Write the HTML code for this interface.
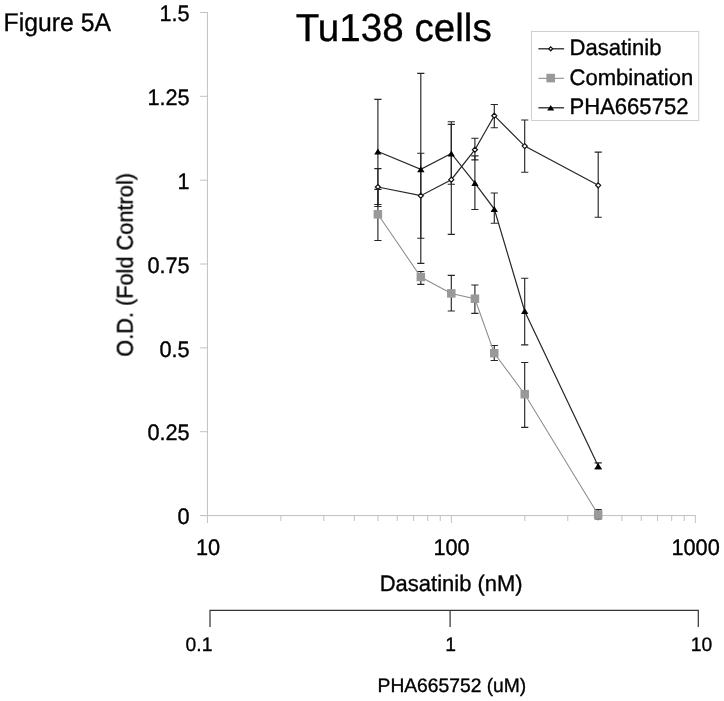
<!DOCTYPE html>
<html><head><meta charset="utf-8"><title>Figure 5A</title>
<style>html,body{margin:0;padding:0;background:#fff;}body{width:724px;height:701px;overflow:hidden;font-family:"Liberation Sans",sans-serif;}svg{display:block;}</style>
</head><body>
<svg width="724" height="701" viewBox="0 0 724 701">
<rect width="724" height="701" fill="#fff"/>
<g stroke="#c2c2c2" stroke-width="1" fill="none">
<line x1="207.45" y1="12" x2="207.45" y2="523"/>
<line x1="200" y1="515.55" x2="695.85" y2="515.55"/>
<line x1="200" y1="515.55" x2="207.45" y2="515.55"/>
<line x1="200" y1="431.71" x2="207.45" y2="431.71"/>
<line x1="200" y1="347.87" x2="207.45" y2="347.87"/>
<line x1="200" y1="264.02" x2="207.45" y2="264.02"/>
<line x1="200" y1="180.18" x2="207.45" y2="180.18"/>
<line x1="200" y1="96.34" x2="207.45" y2="96.34"/>
<line x1="200" y1="12.50" x2="207.45" y2="12.50"/>
<line x1="280.89" y1="515.55" x2="280.89" y2="521"/>
<line x1="323.84" y1="515.55" x2="323.84" y2="521"/>
<line x1="354.32" y1="515.55" x2="354.32" y2="521"/>
<line x1="377.96" y1="515.55" x2="377.96" y2="521"/>
<line x1="397.28" y1="515.55" x2="397.28" y2="521"/>
<line x1="413.61" y1="515.55" x2="413.61" y2="521"/>
<line x1="427.76" y1="515.55" x2="427.76" y2="521"/>
<line x1="440.24" y1="515.55" x2="440.24" y2="521"/>
<line x1="524.84" y1="515.55" x2="524.84" y2="521"/>
<line x1="567.79" y1="515.55" x2="567.79" y2="521"/>
<line x1="598.27" y1="515.55" x2="598.27" y2="521"/>
<line x1="621.91" y1="515.55" x2="621.91" y2="521"/>
<line x1="641.23" y1="515.55" x2="641.23" y2="521"/>
<line x1="657.56" y1="515.55" x2="657.56" y2="521"/>
<line x1="671.71" y1="515.55" x2="671.71" y2="521"/>
<line x1="684.19" y1="515.55" x2="684.19" y2="521"/>
<line x1="451.40" y1="515.55" x2="451.40" y2="523"/>
<line x1="695.35" y1="515.55" x2="695.35" y2="523"/>
</g>
<g stroke="#333" stroke-width="1.2" fill="none">
<path d="M210 627 V610.3 H698.3 V627 M450.1 610.3 V627"/>
</g>
<g stroke="#262626" stroke-width="1.15" fill="none">
<path d="M377.9 168.6 V206.5 M374.3 168.6 H381.5 M374.3 206.5 H381.5"/>
<path d="M420.8 153.2 V238.2 M417.2 153.2 H424.4 M417.2 238.2 H424.4"/>
<path d="M451.3 124.3 V234.4 M447.7 124.3 H454.9 M447.7 234.4 H454.9"/>
<path d="M474.9 138.2 V159.8 M471.3 138.2 H478.5 M471.3 159.8 H478.5"/>
<path d="M494.3 104.5 V127.7 M490.7 104.5 H497.9 M490.7 127.7 H497.9"/>
<path d="M524.7 120 V172.2 M521.1 120 H528.3 M521.1 172.2 H528.3"/>
<path d="M598.2 152.1 V217.2 M594.6 152.1 H601.8 M594.6 217.2 H601.8"/>
<path d="M377.9 99.3 V204.5 M374.3 99.3 H381.5 M374.3 204.5 H381.5"/>
<path d="M420.8 73.3 V263.3 M417.2 73.3 H424.4 M417.2 263.3 H424.4"/>
<path d="M451.3 121.7 V184.2 M447.7 121.7 H454.9 M447.7 184.2 H454.9"/>
<path d="M474.9 155.8 V209.5 M471.3 155.8 H478.5 M471.3 209.5 H478.5"/>
<path d="M494.3 193 V223.2 M490.7 193 H497.9 M490.7 223.2 H497.9"/>
<path d="M524.7 278.2 V344.9 M521.1 278.2 H528.3 M521.1 344.9 H528.3"/>
<path d="M598.2 462.8 V469.0 M594.6 462.8 H601.8 M594.6 469.0 H601.8"/>
<path d="M377.9 189.4 V240.5 M374.3 189.4 H381.5 M374.3 240.5 H381.5"/>
<path d="M420.8 271.5 V284.3 M417.2 271.5 H424.4 M417.2 284.3 H424.4"/>
<path d="M451.3 275.4 V311 M447.7 275.4 H454.9 M447.7 311 H454.9"/>
<path d="M474.9 285 V313.3 M471.3 285 H478.5 M471.3 313.3 H478.5"/>
<path d="M494.3 345.5 V360.5 M490.7 345.5 H497.9 M490.7 360.5 H497.9"/>
<path d="M524.7 362.5 V427.4 M521.1 362.5 H528.3 M521.1 427.4 H528.3"/>
<path d="M598.2 509.6 V519.0 M594.6 509.6 H601.8 M594.6 519.0 H601.8"/>
</g>
<polyline points="377.9,214.3 420.8,277 451.3,293.4 474.9,298.7 494.3,353.2 524.7,394.2 598.2,514.6" fill="none" stroke="#8c8c8c" stroke-width="1.05"/>
<rect x="373.61" y="210.05" width="8.5" height="8.5" fill="#999999"/>
<rect x="416.57" y="272.75" width="8.5" height="8.5" fill="#999999"/>
<rect x="447.05" y="289.15" width="8.5" height="8.5" fill="#999999"/>
<rect x="470.69" y="294.45" width="8.5" height="8.5" fill="#999999"/>
<rect x="490.01" y="348.95" width="8.5" height="8.5" fill="#999999"/>
<rect x="520.49" y="389.95" width="8.5" height="8.5" fill="#999999"/>
<rect x="593.92" y="510.35" width="8.5" height="8.5" fill="#999999"/>
<polyline points="377.9,151.5 420.8,169.3 451.3,153.5 474.9,183.2 494.3,209.1 524.7,311.2 598.2,466.0" fill="none" stroke="#262626" stroke-width="1.2"/>
<polyline points="377.9,187 420.8,195.7 451.3,179.7 474.9,149.7 494.3,115.7 524.7,146.1 598.2,185.3" fill="none" stroke="#262626" stroke-width="1.2"/>
<path d="M377.9 148.4 L381.5 154.4 H374.2 Z" fill="#000"/>
<path d="M420.8 166.2 L424.5 172.2 H417.2 Z" fill="#000"/>
<path d="M451.3 150.4 L454.9 156.4 H447.7 Z" fill="#000"/>
<path d="M474.9 180.1 L478.6 186.1 H471.3 Z" fill="#000"/>
<path d="M494.3 206.0 L497.9 212.0 H490.6 Z" fill="#000"/>
<path d="M524.7 308.1 L528.4 314.1 H521.1 Z" fill="#000"/>
<path d="M598.2 462.9 L601.8 468.9 H594.5 Z" fill="#000"/>
<path d="M377.9 184.50 L380.36 187.0 L377.9 189.50 L375.36 187.0 Z" fill="#fff" stroke="#111" stroke-width="1.2"/>
<path d="M420.8 193.20 L423.32 195.7 L420.8 198.20 L418.32 195.7 Z" fill="#fff" stroke="#111" stroke-width="1.2"/>
<path d="M451.3 177.20 L453.80 179.7 L451.3 182.20 L448.80 179.7 Z" fill="#fff" stroke="#111" stroke-width="1.2"/>
<path d="M474.9 147.20 L477.44 149.7 L474.9 152.20 L472.44 149.7 Z" fill="#fff" stroke="#111" stroke-width="1.2"/>
<path d="M494.3 113.20 L496.76 115.7 L494.3 118.20 L491.76 115.7 Z" fill="#fff" stroke="#111" stroke-width="1.2"/>
<path d="M524.7 143.60 L527.24 146.1 L524.7 148.60 L522.24 146.1 Z" fill="#fff" stroke="#111" stroke-width="1.2"/>
<path d="M598.2 182.80 L600.67 185.3 L598.2 187.80 L595.67 185.3 Z" fill="#fff" stroke="#111" stroke-width="1.2"/>
<rect x="531.5" y="31.5" width="167.3" height="89" fill="#fff" stroke="#cfcfcf" stroke-width="1"/>
<line x1="538.4" y1="48.8" x2="564.1" y2="48.8" stroke="#262626" stroke-width="1.3"/>
<path d="M550.7 46.85 L552.65 48.8 L550.7 50.75 L548.75 48.8 Z" fill="#fff" stroke="#111" stroke-width="1.25"/>
<line x1="538.4" y1="78.3" x2="564.1" y2="78.3" stroke="#8c8c8c" stroke-width="1.05"/>
<rect x="546.4000000000001" y="73.8" width="8.6" height="8.6" fill="#999999"/>
<line x1="538.4" y1="107.8" x2="564.1" y2="107.8" stroke="#262626" stroke-width="1.3"/>
<path d="M550.7 104.9 L554.2 110.5 H547.2 Z" fill="#000"/>
<g font-family="'Liberation Sans', sans-serif" text-rendering="geometricPrecision" opacity="0.999" stroke="#000" stroke-width="0.35" stroke-linejoin="round">
<text id="fig" transform="translate(3.6 31.4) scale(0.967 1)" font-size="25.6" text-anchor="start" fill="#000">Figure 5A</text>
<text id="title" transform="translate(295.7 40.8) scale(0.99 1)" font-size="39.0" text-anchor="start" fill="#000">Tu138 cells</text>
<text id="y0" transform="translate(189.7 524.25) scale(0.965 1)" font-size="22.5" text-anchor="end" fill="#000">0</text>
<text id="y1" transform="translate(189.7 440.4083333333333) scale(0.965 1)" font-size="22.5" text-anchor="end" fill="#000">0.25</text>
<text id="y2" transform="translate(189.7 356.56666666666666) scale(0.965 1)" font-size="22.5" text-anchor="end" fill="#000">0.5</text>
<text id="y3" transform="translate(189.7 272.72499999999997) scale(0.965 1)" font-size="22.5" text-anchor="end" fill="#000">0.75</text>
<text id="y4" transform="translate(189.7 188.88333333333333) scale(0.965 1)" font-size="22.5" text-anchor="end" fill="#000">1</text>
<text id="y5" transform="translate(189.7 105.0416666666667) scale(0.965 1)" font-size="22.5" text-anchor="end" fill="#000">1.25</text>
<text id="y6" transform="translate(189.7 21.2) scale(0.965 1)" font-size="22.5" text-anchor="end" fill="#000">1.5</text>
<text id="x10" transform="translate(208 555.3) scale(0.965 1)" font-size="22.5" text-anchor="middle" fill="#000">10</text>
<text id="x100" transform="translate(451.5 555.3) scale(0.965 1)" font-size="22.5" text-anchor="middle" fill="#000">100</text>
<text id="x1000" transform="translate(695.6 555.3) scale(0.965 1)" font-size="22.5" text-anchor="middle" fill="#000">1000</text>
<text id="xl" transform="translate(451.2 591.2) scale(0.977 1)" font-size="22.5" text-anchor="middle" fill="#000">Dasatinib (nM)</text>
<text id="s01" transform="translate(199 651.3) scale(0.99 1)" font-size="19.5" text-anchor="middle" fill="#000">0.1</text>
<text id="s1" transform="translate(450.6 651.3) scale(0.99 1)" font-size="19.5" text-anchor="middle" fill="#000">1</text>
<text id="s10" transform="translate(701.6 651.3) scale(0.99 1)" font-size="19.5" text-anchor="middle" fill="#000">10</text>
<text id="xl2" transform="translate(451.9 692.0) scale(0.987 1)" font-size="19.5" text-anchor="middle" fill="#000">PHA665752 (uM)</text>
<text id="yl" transform="translate(132.6 264.9) rotate(-90) scale(0.967 1)" font-size="22.5" text-anchor="middle" fill="#000">O.D. (Fold Control)</text>
<text id="l1" transform="translate(569.5 55.4) scale(0.98 1)" font-size="22.5" text-anchor="start" fill="#000">Dasatinib</text>
<text id="l2" transform="translate(569.5 85.2) scale(0.98 1)" font-size="22.5" text-anchor="start" fill="#000">Combination</text>
<text id="l3" transform="translate(569.5 114.4) scale(0.98 1)" font-size="22.5" text-anchor="start" fill="#000">PHA665752</text>
</g>
</svg>
</body></html>
